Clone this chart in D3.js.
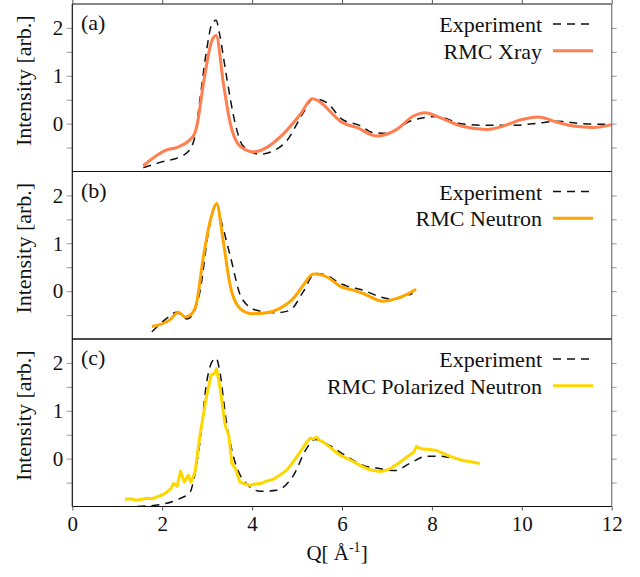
<!DOCTYPE html>
<html><head><meta charset="utf-8">
<script src="https://cdn.jsdelivr.net/npm/d3@7"></script>
<style>body{margin:0;background:#fff}svg{display:block}</style>
</head><body><svg id="c" width="640" height="577"></svg>
<script>
const xTicks=[0,2,4,6,8,10,12];
const yTicks=[-0.5,0,0.5,1,1.5,2];
const yLabels=[0,1,2];
const panelLabels=["(a)","(b)","(c)"];
const simLabels=["RMC Xray","RMC Neutron","RMC Polarized Neutron"];
const simColors=["#ff7f50","#ffa500","#ffd700"];

const expA=[[1.58,-0.92],[1.95,-0.81],[2.47,-0.66],[2.66,-0.47],[2.73,-0.26],[2.84,0.51],[2.99,1.55],[3.1,2.07],[3.2,2.16],[3.27,1.9],[3.43,0.99],[3.62,0.02],[3.8,-0.47],[4.18,-0.64],[4.47,-0.57],[4.77,-0.36],[5.14,0.23],[5.36,0.52],[5.66,0.44],[5.99,0.1],[6.4,-0.04],[6.7,-0.19],[6.99,-0.2],[7.51,0.05],[8.11,0.15],[8.7,-0.01],[9.29,-0.035],[9.81,-0.035],[10.33,0.006],[10.78,0.05],[11.37,0.0],[12,-0.015]];
const simA=[[1.58,-0.88],[2.1,-0.55],[2.32,-0.5],[2.69,-0.26],[2.77,-0.05],[2.92,0.85],[3.1,1.72],[3.2,1.84],[3.36,0.85],[3.51,0.02],[3.73,-0.47],[4.03,-0.59],[4.32,-0.5],[4.69,-0.22],[5.07,0.19],[5.34,0.52],[5.58,0.4],[5.73,0.26],[5.96,0.05],[6.33,-0.08],[6.77,-0.26],[7.22,-0.12],[7.59,0.16],[7.85,0.23],[8.18,0.125],[8.7,-0.06],[9.22,-0.12],[9.59,-0.05],[9.96,0.075],[10.37,0.14],[10.78,0.03],[11.15,-0.05],[11.59,-0.08],[12,-0.02]];

const expB=[[1.77,-0.85],[2.1,-0.57],[2.32,-0.44],[2.55,-0.58],[2.69,-0.47],[2.84,-0.01],[3.03,1.24],[3.2,1.83],[3.32,1.44],[3.51,0.75],[3.77,-0.15],[4.1,-0.4],[4.55,-0.45],[4.84,-0.4],[5.14,-0.01],[5.4,0.37],[5.66,0.33],[5.96,0.16],[6.1,0.11],[6.47,0.02],[6.92,-0.14],[7.14,-0.17],[7.36,-0.12],[7.57,-0.05]];
const simB=[[1.77,-0.74],[2.17,-0.6],[2.36,-0.44],[2.51,-0.54],[2.66,-0.47],[2.77,-0.22],[2.91,0.68],[3.1,1.58],[3.21,1.83],[3.36,1.03],[3.51,0.125],[3.73,-0.36],[3.99,-0.47],[4.32,-0.45],[4.62,-0.36],[4.92,-0.15],[5.14,0.125],[5.36,0.36],[5.58,0.33],[5.73,0.26],[5.96,0.1],[6.25,0.02],[6.47,-0.05],[6.92,-0.21],[7.22,-0.15],[7.48,-0.05],[7.65,0.04]];

const expC=[[1.45,-1.0],[1.95,-0.96],[2.4,-0.83],[2.62,-0.7],[2.69,-0.49],[2.84,0.35],[2.99,1.6],[3.1,2.01],[3.2,2.1],[3.27,1.88],[3.43,0.76],[3.62,-0.07],[3.84,-0.49],[4.18,-0.68],[4.55,-0.66],[4.92,-0.35],[5.21,0.21],[5.4,0.4],[5.66,0.31],[6.1,0.05],[6.47,-0.14],[6.85,-0.21],[7.18,-0.25],[7.51,-0.1],[7.88,0.05],[8.18,0.05],[8.55,-0.01],[9.07,-0.1]];
const simC=[[1.17,-0.85],[1.3,-0.84],[1.43,-0.87],[1.55,-0.85],[1.66,-0.83],[1.77,-0.84],[1.88,-0.8],[2.0,-0.76],[2.1,-0.7],[2.2,-0.62],[2.25,-0.52],[2.33,-0.58],[2.41,-0.26],[2.49,-0.49],[2.58,-0.35],[2.64,-0.49],[2.73,-0.28],[2.84,0.49],[2.99,1.32],[3.09,1.75],[3.16,1.78],[3.21,1.88],[3.29,1.46],[3.4,0.7],[3.48,0.49],[3.55,-0.1],[3.63,-0.21],[3.73,-0.49],[3.85,-0.53],[3.95,-0.56],[4.06,-0.53],[4.18,-0.52],[4.32,-0.47],[4.47,-0.43],[4.62,-0.34],[4.77,-0.24],[4.92,-0.06],[5.07,0.14],[5.18,0.3],[5.29,0.43],[5.36,0.41],[5.44,0.45],[5.5,0.38],[5.58,0.35],[5.73,0.24],[5.85,0.15],[5.96,0.07],[6.1,0.01],[6.25,-0.06],[6.4,-0.14],[6.55,-0.21],[6.7,-0.25],[6.85,-0.27],[6.96,-0.25],[7.07,-0.21],[7.25,-0.1],[7.44,0.03],[7.6,0.14],[7.66,0.26],[7.7,0.23],[7.8,0.2],[7.95,0.19],[8.11,0.17],[8.25,0.11],[8.4,0.05],[8.55,0.0],[8.7,-0.04],[8.9,-0.07],[9.07,-0.1]];

const expData=[expA,expB,expC];
const simData=[simA,simB,simC];

// pick first installed serif face
function pickFont(){
  const cands=["Liberation Serif","Tinos","Times New Roman","Times","Nimbus Roman","Nimbus Roman No9 L","FreeSerif","DejaVu Serif","Noto Serif","Noto Serif CJK SC","Noto Serif CJK JP","Source Serif Pro","Georgia"];
  const ctx=document.createElement("canvas").getContext("2d");
  const s="mmmmmmmmmmlliiWWQQ@#abcdefghijkl0123456789";
  const base=["monospace","sans-serif"].map(b=>{ctx.font="60px "+b;return ctx.measureText(s).width;});
  for(const f of cands){
    let ok=true;
    ["monospace","sans-serif"].forEach((b,k)=>{ctx.font=`60px '${f}', ${b}`;if(Math.abs(ctx.measureText(s).width-base[k])<0.5)ok=false;});
    if(ok) return `'${f}', serif`;
  }
  return "serif";
}
const FONT=pickFont();
const svg=d3.select("#c").attr("font-family",FONT);
const L=72.3,R=611.7,H=167.5,tops=[4,171.5,339];
const x=d3.scaleLinear().domain([0,12]).range([L,R]);
const T=(sel)=>sel.attr("font-family",FONT).attr("fill","#111");

tops.forEach((top,i)=>{
  const y=d3.scaleLinear().domain([-1,2.5]).range([top+H,top]);
  const g=svg.append("g");
  const cid="clip"+i;
  svg.append("clipPath").attr("id",cid).append("rect").attr("x",L).attr("y",top).attr("width",R-L).attr("height",H);
  const la=g.append("g").attr("transform",`translate(${L},0)`).call(d3.axisLeft(y).tickValues(yTicks).tickSize(5.5).tickFormat(d=>yLabels.includes(d)?d3.format("d")(d):""));
  la.attr("font-family",FONT);
  la.select(".domain").remove();
  la.selectAll(".tick line").attr("stroke","#999");
  T(la.selectAll(".tick text")).attr("font-size",21).attr("dy","0.32em").attr("x",-9);
  const ra=g.append("g").attr("transform",`translate(${R},0)`).call(d3.axisRight(y).tickValues(yTicks).tickSize(5).tickFormat(""));
  ra.select(".domain").remove();
  ra.selectAll(".tick line").attr("stroke","#999");
  const lineS=d3.line().x(d=>x(d[0])).y(d=>y(d[1])).curve(i===2?d3.curveLinear:d3.curveMonotoneX);
  const lineE=d3.line().x(d=>x(d[0])).y(d=>y(d[1])).curve(d3.curveMonotoneX);
  const pg=g.append("g").attr("clip-path",`url(#${cid})`);
  pg.append("path").datum(expData[i]).attr("d",lineE).attr("fill","none").attr("stroke","#111").attr("stroke-width",1.5).attr("stroke-dasharray","8,6");
  pg.append("path").datum(simData[i]).attr("d",lineS).attr("fill","none").attr("stroke",simColors[i]).attr("stroke-width",3).attr("stroke-linejoin","round");
  g.append("line").attr("x1",L).attr("x2",L).attr("y1",top).attr("y2",top+H).attr("stroke","#111").attr("stroke-width",1.2);
  g.append("line").attr("x1",R).attr("x2",R).attr("y1",top).attr("y2",top+H).attr("stroke","#777").attr("stroke-width",1.2);
  g.append("line").attr("x1",L).attr("x2",R).attr("y1",top).attr("y2",top).attr("stroke","#111").attr("stroke-width",1.2);
  g.append("line").attr("x1",L).attr("x2",R).attr("y1",top+H).attr("y2",top+H).attr("stroke","#111").attr("stroke-width",1.2);
  T(g.append("text")).attr("x",81).attr("y",top+26).attr("font-size",22).text(panelLabels[i]);
  T(g.append("text")).attr("transform",`translate(31,${top+H/2-7}) rotate(-90)`).attr("text-anchor","middle").attr("font-size",22).text("Intensity [arb.]");
  T(g.append("text")).attr("x",542).attr("y",top+28).attr("text-anchor","end").attr("font-size",22).text("Experiment");
  T(g.append("text")).attr("x",542).attr("y",top+54.5).attr("text-anchor","end").attr("font-size",22).text(simLabels[i]);
  g.append("line").attr("x1",553).attr("x2",593).attr("y1",top+20).attr("y2",top+20).attr("stroke","#111").attr("stroke-width",1.5).attr("stroke-dasharray","8,6");
  g.append("line").attr("x1",553).attr("x2",593).attr("y1",top+46.7).attr("y2",top+46.7).attr("stroke",simColors[i]).attr("stroke-width",3);
});

const ta=svg.append("g").attr("transform",`translate(0,${tops[0]})`).call(d3.axisTop(x).tickValues(xTicks).tickSize(4).tickFormat(""));
ta.select(".domain").remove(); ta.selectAll(".tick line").attr("stroke","#555");
const bottom=tops[2]+H;
const ba=svg.append("g").attr("transform",`translate(0,${bottom})`).call(d3.axisBottom(x).tickValues(xTicks).tickSize(4).tickFormat(d3.format("d")));
ba.attr("font-family",FONT);
ba.select(".domain").remove(); ba.selectAll(".tick line").attr("stroke","#555");
T(ba.selectAll(".tick text")).attr("font-size",21).attr("y",10).attr("dy","0.71em");

const xl=T(svg.append("text")).attr("x",337).attr("y",560).attr("text-anchor","middle").attr("font-size",21);
xl.append("tspan").text("Q[ Å");
xl.append("tspan").attr("dy",-8).attr("font-size",14).text("-1");
xl.append("tspan").attr("dy",8).text("]");
</script></body></html>
